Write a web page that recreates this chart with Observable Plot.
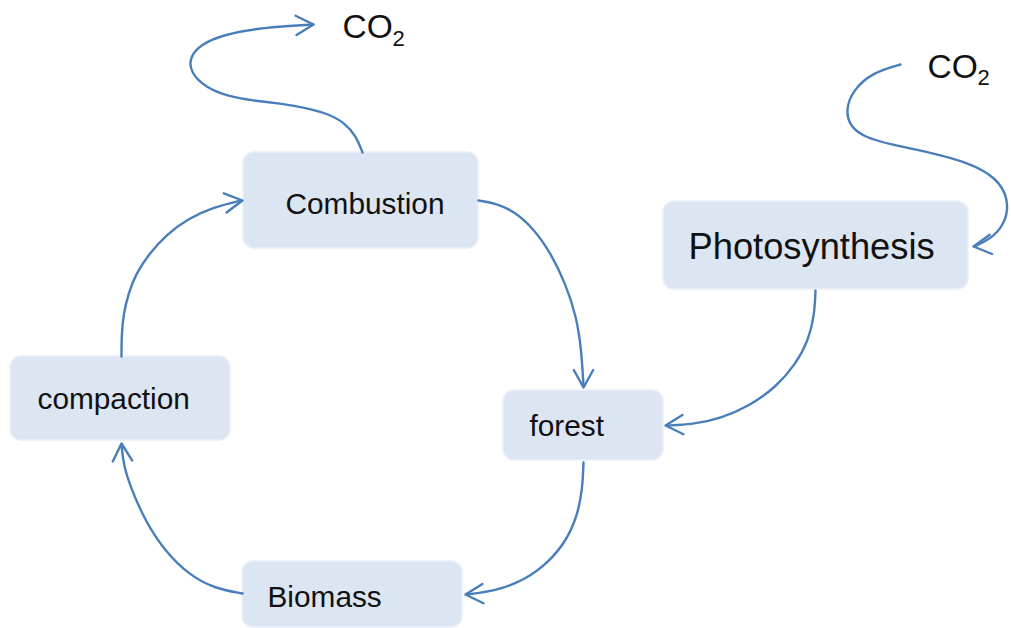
<!DOCTYPE html>
<html>
<head>
<meta charset="utf-8">
<script src="https://cdn.jsdelivr.net/npm/d3@7"></script>
<script src="https://cdn.jsdelivr.net/npm/@observablehq/plot@0.6"></script>
<style>
  html, body { margin: 0; padding: 0; background: #ffffff; }
  #chart svg { display: block; }
</style>
</head>
<body>
<div id="chart"></div>
<script>
// ---- Diagram data (pixel space) ----
const nodeNames = ["Combustion", "compaction", "forest", "Biomass", "Photosynthesis"];
const nodeLeft   = [243, 10, 503, 242, 663];
const nodeRight  = [478, 230, 663, 462, 968];
const nodeTop    = [152, 356, 390, 561, 201];
const nodeBottom = [248, 440, 460, 627, 289];
const labelX     = [285, 37, 529, 267, 688];
const labelBase  = [213, 408, 435, 606, 258];

const co2Labels = ["CO", "CO"];
const co2X = [342, 927];
const co2Base = [37, 77];
const subLabels = ["2", "2"];
const subX = [392, 977];
const subBase = [45, 84];

// Connector paths (waypoints along each curved arrow)
const pathCompactionToCombustion = [[121,356],[121,335],[123,313],[128,293],[135,274],[148,254],[166,234],[188,218],[212,207],[241,200]];
const pathCombustionToForest = [[478,200],[496,203],[514,211],[533,228],[550,252],[565,283],[576,316],[581,350],[583,386]];
const pathForestToBiomass = [[583,462],[582,488],[577,515],[566,540],[548,562],[525,579],[497,590],[466,594]];
const pathBiomassToCompaction = [[242,593],[214,588],[188,574],[164,550],[145,521],[131,489],[123,465],[121,444]];
const pathPhotoToForest = [[815,290],[814,314],[808,340],[795,364],[776,386],[750,405],[720,418],[692,424],[666,425]];
const pathCombustionToCO2 = [[362,152],[356,136],[344,122],[327,113],[304,107],[280,103],[252,100],[228,96],[205,87],[190,72],[189,57],[200,44],[223,34],[262,27],[313,24]];
const pathCO2ToPhoto = [[900,64],[872,72],[852,90],[845,110],[850,127],[865,137],[890,144],[930,152],[968,162],[996,177],[1008,198],[1006,220],[993,237],[974,246]];

// Arrow heads: tip position and travel direction (degrees, screen coords)
const headX = [242, 583, 465, 121, 665, 313, 973];
const headY = [200, 387, 594, 443, 425, 24, 246];
const headAngle = [-8, 90, 177, -93, 177, -3, 173];

// ---- Build tables ----
const boxes = nodeNames.map((name, i) => ({
  name, x1: nodeLeft[i], x2: nodeRight[i], y1: nodeTop[i], y2: nodeBottom[i],
  lx: labelX[i], ly: labelBase[i]
}));
const paths = [
  pathCompactionToCombustion, pathCombustionToForest, pathForestToBiomass,
  pathBiomassToCompaction, pathPhotoToForest, pathCombustionToCO2, pathCO2ToPhoto
].flatMap((p, id) => p.map(([x, y]) => ({id, x, y})));

const wingLen = 20, wingHalf = 29 * Math.PI / 180;
const heads = headX.flatMap((x, i) => {
  const a = headAngle[i] * Math.PI / 180;
  return [
    {id: i, x: x - wingLen * Math.cos(a - wingHalf), y: headY[i] - wingLen * Math.sin(a - wingHalf)},
    {id: i, x, y: headY[i]},
    {id: i, x: x - wingLen * Math.cos(a + wingHalf), y: headY[i] - wingLen * Math.sin(a + wingHalf)}
  ];
});
const co2 = co2Labels.map((t, i) => ({t, x: co2X[i], y: co2Base[i]}));
const subs = subLabels.map((t, i) => ({t, x: subX[i], y: subBase[i]}));

const blue = "#4a7ebb";
const font = "Liberation Sans, Arial, Helvetica, sans-serif";

const chart = Plot.plot({
  width: 1011,
  height: 628,
  margin: 0,
  x: {domain: [0, 1011], range: [0, 1011], axis: null},
  y: {domain: [0, 628], range: [0, 628], axis: null},
  style: {fontFamily: font, background: "#ffffff"},
  marks: [
    Plot.rect(boxes, {x1: "x1", x2: "x2", y1: "y1", y2: "y2", rx: 11, fill: "#dce6f2", stroke: "#e9eff8", strokeWidth: 1.5}),
    Plot.line(paths, {x: "x", y: "y", z: "id", curve: "basis", stroke: blue, strokeWidth: 2.4, strokeLinecap: "round"}),
    Plot.line(heads, {x: "x", y: "y", z: "id", stroke: blue, strokeWidth: 2.4, strokeLinecap: "round", strokeLinejoin: "round"}),
    Plot.text(boxes.filter(d => d.name !== "Photosynthesis"), {x: "lx", y: "ly", text: "name", textAnchor: "start", lineAnchor: "bottom", fontSize: 29.8, fill: "#111111"}),
    Plot.text(boxes.filter(d => d.name === "Photosynthesis"), {x: "lx", y: "ly", text: "name", textAnchor: "start", lineAnchor: "bottom", fontSize: 36.3, fill: "#111111"}),
    Plot.text(co2, {x: "x", y: "y", text: "t", textAnchor: "start", lineAnchor: "bottom", fontSize: 33.5, fill: "#111111"}),
    Plot.text(subs, {x: "x", y: "y", text: "t", textAnchor: "start", lineAnchor: "bottom", fontSize: 22, fill: "#111111"})
  ]
});
document.getElementById("chart").appendChild(chart);
</script>
</body>
</html>
